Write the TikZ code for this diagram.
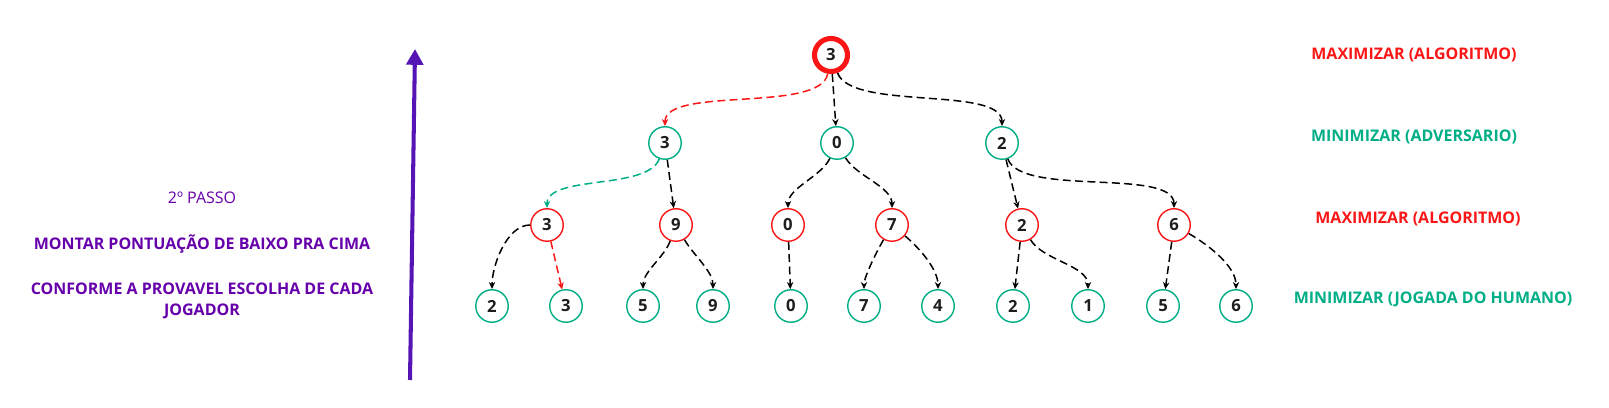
\documentclass[tikz,border=0pt]{standalone}
\usepackage{fontspec}
\setmainfont{Open Sans}
\usetikzlibrary{arrows.meta}

\definecolor{maxred}{RGB}{250,22,22}
\definecolor{mingreen}{RGB}{0,174,134}
\definecolor{passo}{RGB}{102,0,170}
\definecolor{seta}{RGB}{85,20,180}
\definecolor{digit}{RGB}{30,30,30}

\tikzset{
  maxnode/.style={circle, draw=maxred, line width=0.8pt, minimum size=0.65cm, inner sep=0pt,
    font=\bfseries\fontsize{9.5}{9.5}\selectfont, text=digit},
  minnode/.style={maxnode, draw=mingreen},
  rootnode/.style={maxnode, line width=2.9pt, minimum size=0.66cm},
  jogada/.style={dash pattern=on 4.5pt off 2.5pt, line width=0.85pt, ->},
  nivel/.style={font=\bfseries\fontsize{9.1}{12.3}\selectfont},
}

\begin{document}
\begin{tikzpicture}[x=0.02cm,y=-0.02cm,>={Stealth[length=4pt,width=3.6pt]}]
\useasboundingbox (0,0) rectangle (1609,408);

\node[rootnode] (s_0) at (831,55) {3};

\node[minnode] (a_1) at (665,143) {3};
\node[minnode] (a_2) at (837,143) {0};
\node[minnode] (a_3) at (1002,143) {2};

\node[maxnode] (b_1) at (547,225) {3};
\node[maxnode] (b_2) at (676,225) {9};
\node[maxnode] (b_3) at (788,225) {0};
\node[maxnode] (b_4) at (892,225) {7};
\node[maxnode] (b_5) at (1022,225) {2};
\node[maxnode] (b_6) at (1174,225) {6};

\node[minnode] (c_1) at (492,306) {2};
\node[minnode] (c_2) at (566,306) {3};
\node[minnode] (c_3) at (643,306) {5};
\node[minnode] (c_4) at (713,306) {9};
\node[minnode] (c_5) at (791,306) {0};
\node[minnode] (c_6) at (864,306) {7};
\node[minnode] (c_7) at (938,306) {4};
\node[minnode] (c_8) at (1013,306) {2};
\node[minnode] (c_9) at (1088,306) {1};
\node[minnode] (c_10) at (1163,306) {5};
\node[minnode] (c_11) at (1236,306) {6};

\path[jogada]
(s_0) edge [maxred, out=-100, in=90, looseness=0.6] (a_1)
(s_0) edge (a_2)
(s_0) edge [out=-70, in=90, looseness=0.6] (a_3)

(a_1) edge [mingreen, out=-110, in=90, looseness=0.7] (b_1)
(a_1) edge (b_2)
(a_2) edge [out=-115, in=90, looseness=0.8] (b_3)
(a_2) edge [out=-60, in=90, looseness=0.8] (b_4)
(a_3) edge (b_5)
(a_3) edge [out=-70, in=90, looseness=0.6] (b_6)

(b_1) edge [out=180, in=90, looseness=0.8] (c_1)
(b_1) edge [maxred] (c_2)
(b_2) edge [out=-110, in=90, looseness=0.8] (c_3)
(b_2) edge [out=-60, in=90, looseness=0.8] (c_4)
(b_3) edge (c_5)
(b_4) edge [out=-120, in=90, looseness=0.6] (c_6)
(b_4) edge [out=-40, in=90, looseness=0.8] (c_7)
(b_5) edge (c_8)
(b_5) edge [out=-60, in=90, looseness=0.8] (c_9)
(b_6) edge (c_10)
(b_6) edge [out=-30, in=90, looseness=0.8] (c_11)
; %end path

% niveis
\node[nivel, text=maxred] (t_max1) at (1414,55) {MAXIMIZAR (ALGORITMO)};
\node[nivel, text=mingreen] (t_min1) at (1414,137) {MINIMIZAR (ADVERSARIO)};
\node[nivel, text=maxred] (t_max2) at (1418,219) {MAXIMIZAR (ALGORITMO)};
\node[nivel, text=mingreen] (t_min2) at (1433,299) {MINIMIZAR (JOGADA DO HUMANO)};

% passo
\node[text=passo, font=\fontsize{9.1}{12.3}\selectfont] (passo) at (202,198) {2º PASSO};
\node[nivel, text=passo] (montar) at (202,244) {MONTAR PONTUAÇÃO DE BAIXO PRA CIMA};
\node[nivel, text=passo, align=center] (conforme) at (202,301) {CONFORME A PROVAVEL ESCOLHA DE CADA\\JOGADOR};

\coordinate (base) at (410,380);
\coordinate (topo) at (415,49);
\draw[seta, line width=2.3pt, -{Triangle[length=9pt,width=9.5pt]}] (base) -- (topo);
\end{tikzpicture}
\end{document}
